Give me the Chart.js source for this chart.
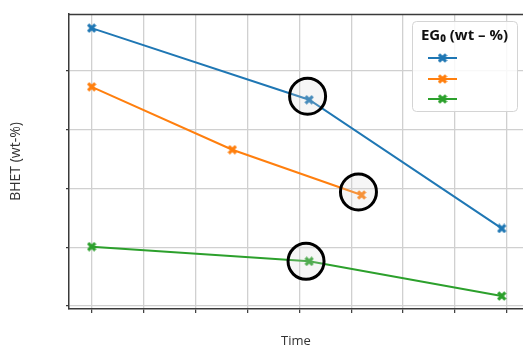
<!DOCTYPE html>
<html>
<head>
<meta charset="utf-8">
<script src="https://cdn.jsdelivr.net/npm/chart.js@4/dist/chart.umd.min.js"></script>
<style>
  html, body { margin: 0; padding: 0; background: #fff; }
  #wrap { width: 523px; height: 349px; position: relative; }
</style>
</head>
<body>
<div id="wrap"><canvas id="c" width="523" height="349"></canvas></div>
<script>
// Series: BHET yield over time for three initial EG loadings
const blueTime   = [0, 4.19, 7.9];
const blueBHET   = [4.73, 3.51, 1.32];
const orangeTime = [0, 2.71, 5.2];
const orangeBHET = [3.73, 2.66, 1.89];
const greenTime  = [0, 4.19, 7.9];
const greenBHET  = [1.01, 0.76, 0.17];

// Highlighted measurements (ringed)
const ringTime = [4.16, 5.14, 4.13];
const ringBHET = [3.57, 1.94, 0.76];

const colors = ['#1f77b4', '#ff7f0e', '#2ca02c'];
const legendTitle = 'EG\u2080 (wt \u2013 %)';
const xTitle = 'Time';
const yTitle = 'BHET (wt-%)';

// Filled "X" marker
function xMarker(color, size) {
  const c = document.createElement('canvas');
  c.width = size; c.height = size;
  const g = c.getContext('2d');
  const s = size / 2, a = size * 0.16;
  g.translate(s, s);
  g.rotate(Math.PI / 4);
  g.fillStyle = color;
  g.fillRect(-s, -a, size, 2 * a);
  g.fillRect(-a, -s, 2 * a, size);
  return c;
}
const markers = colors.map(c => xMarker(c, 10));

function pts(xs, ys) { return xs.map((x, i) => ({ x: x, y: ys[i] })); }

function lineSet(xs, ys, i) {
  return {
    data: pts(xs, ys),
    borderColor: colors[i],
    backgroundColor: colors[i],
    borderWidth: 2,
    pointStyle: markers[i],
    pointRadius: 5,
    showLine: true,
    order: 1
  };
}

const frame = {
  id: 'frame',
  afterDraw(chart) {
    const ctx = chart.ctx, a = chart.chartArea;
    ctx.save();
    // top spine
    ctx.strokeStyle = '#3a3a3a';
    ctx.lineWidth = 1.5;
    ctx.beginPath();
    ctx.moveTo(a.left, a.top + 0.5);
    ctx.lineTo(a.right, a.top + 0.5);
    ctx.stroke();

    // legend box
    const bx = 412, by = 21, bw = 105, bh = 90, r = 4;
    ctx.fillStyle = 'rgba(255,255,255,0.85)';
    ctx.strokeStyle = '#d4d4d4';
    ctx.lineWidth = 1;
    ctx.beginPath();
    ctx.roundRect(bx + 0.5, by + 0.5, bw, bh, r);
    ctx.fill();
    ctx.stroke();

    ctx.fillStyle = '#111';
    ctx.font = 'bold 15px "Open Sans", "Liberation Sans", sans-serif';
    ctx.textAlign = 'center';
    ctx.textBaseline = 'middle';
    ctx.fillText(legendTitle, bx + bw / 2, 36);

    const rows = [58, 79, 99];
    rows.forEach((y, i) => {
      ctx.strokeStyle = colors[i];
      ctx.lineWidth = 2;
      ctx.beginPath();
      ctx.moveTo(428, y);
      ctx.lineTo(457, y);
      ctx.stroke();
      ctx.drawImage(markers[i], 442.5 - 5, y - 5);
    });
    ctx.restore();
  }
};

new Chart(document.getElementById('c'), {
  type: 'scatter',
  data: {
    datasets: [
      lineSet(blueTime, blueBHET, 0),
      lineSet(orangeTime, orangeBHET, 1),
      lineSet(greenTime, greenBHET, 2),
      {
        data: pts(ringTime, ringBHET),
        pointStyle: 'circle',
        pointRadius: 18,
        borderWidth: 3,
        borderColor: '#000',
        backgroundColor: 'rgba(215,215,215,0.22)',
        showLine: false,
        order: 0
      }
    ]
  },
  plugins: [frame],
  options: {
    responsive: false,
    animation: false,
    events: [],
    layout: { autoPadding: false, padding: { top: 14, right: 0, left: 0, bottom: 0 } },
    plugins: { legend: { display: false }, tooltip: { enabled: false } },
    scales: {
      x: {
        type: 'linear',
        min: -0.437,
        max: 8.31,
        afterFit(s) { s.height = 40; },
        ticks: { display: false, stepSize: 1, includeBounds: false },
        grid: { color: '#d0d0d0', lineWidth: 1.3, drawTicks: true, tickLength: 4, tickColor: '#3a3a3a', tickWidth: 1.2 },
        border: { display: true, color: '#3a3a3a', width: 1.5 },
        title: {
          display: true, text: xTitle, color: '#333',
          font: { family: '"Open Sans", "Liberation Sans", sans-serif', size: 13 },
          padding: { top: 0, bottom: 0 }
        }
      },
      y: {
        type: 'linear',
        min: -0.051,
        max: 4.97,
        afterFit(s) { s.width = 69; },
        ticks: { display: false, stepSize: 1, includeBounds: false },
        grid: { color: '#d0d0d0', lineWidth: 1.3, drawTicks: true, tickLength: 3, tickColor: '#3a3a3a', tickWidth: 1.2 },
        border: { display: true, color: '#3a3a3a', width: 1.5 },
        title: {
          display: true, text: yTitle, color: '#333',
          font: { family: '"Open Sans", "Liberation Sans", sans-serif', size: 14 },
          padding: { top: 8, bottom: 0 }
        }
      }
    }
  }
});
</script>
</body>
</html>
